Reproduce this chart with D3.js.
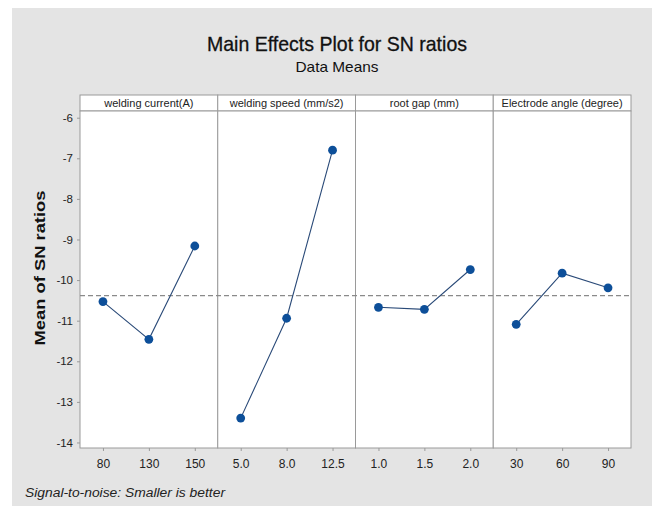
<!DOCTYPE html>
<html><head><meta charset="utf-8">
<script src="https://cdn.jsdelivr.net/npm/d3@7"></script>
<style>body{margin:0;background:#fff;} svg{display:block;}</style>
</head><body>
<script>
const factors = ["welding current(A)", "welding speed (mm/s2)", "root gap (mm)", "Electrode angle (degree)"];
const levels = [["80","130","150"],["5.0","8.0","12.5"],["1.0","1.5","2.0"],["30","60","90"]];
const currentSN = [-10.53, -11.46, -9.16];
const speedSN = [-13.40, -10.94, -6.80];
const gapSN = [-10.67, -10.72, -9.74];
const angleSN = [-11.09, -9.83, -10.19];
const seriesValues = [currentSN, speedSN, gapSN, angleSN];
const yTicks = [-6,-7,-8,-9,-10,-11,-12,-13,-14];
const grandMean = d3.mean(currentSN);

(function(){
const W = 652, H = 506;
const svg = d3.select("body").append("svg").attr("width", W).attr("height", H);
svg.append("rect").attr("x",12).attr("y",8).attr("width",W-12).attr("height",H-8).attr("fill","#e4e4e4");

const pLeft = 80, pRight = 631, pTop = 111, pBottom = 448, headerTop = 95;
const y = d3.scaleLinear().domain([-14.136, -5.835]).range([pBottom, pTop]);
const panelX = d3.scaleBand().domain(factors).range([pLeft, pRight]).paddingInner(0).paddingOuter(0);
const pw = panelX.bandwidth();

const font = "'Liberation Sans', Arial, sans-serif";

svg.append("text").attr("x",337).attr("y",51).attr("text-anchor","middle")
  .attr("font-family",font).attr("font-size",21).attr("fill","#111")
  .attr("stroke","#111").attr("stroke-width",0.3)
  .attr("textLength",260).attr("lengthAdjust","spacingAndGlyphs")
  .text("Main Effects Plot for SN ratios");
svg.append("text").attr("x",337).attr("y",72).attr("text-anchor","middle")
  .attr("font-family",font).attr("font-size",14.5).attr("fill","#111")
  .attr("textLength",83).attr("lengthAdjust","spacingAndGlyphs")
  .text("Data Means");

factors.forEach((f, i) => {
  const x0 = panelX(f);
  const g = svg.append("g");
  g.append("rect").attr("x",x0).attr("y",headerTop).attr("width",pw).attr("height",pTop-headerTop)
    .attr("fill","#fff").attr("stroke","#9a9a9a").attr("stroke-width",1);
  g.append("rect").attr("x",x0).attr("y",pTop).attr("width",pw).attr("height",pBottom-pTop)
    .attr("fill","#fff").attr("stroke","#9a9a9a").attr("stroke-width",1);
  g.append("text").attr("x",x0+pw/2).attr("y",107).attr("text-anchor","middle")
    .attr("font-family",font).attr("font-size",11).attr("fill","#222").text(f);
});

svg.append("line").attr("x1",pLeft).attr("x2",pRight).attr("y1",y(grandMean)).attr("y2",y(grandMean))
  .attr("stroke","#8a8a8a").attr("stroke-width",1.2).attr("stroke-dasharray","5,3");

const yAxis = d3.axisLeft(y).tickValues(yTicks).tickSize(3).tickPadding(4).tickFormat(d3.format("d"));
const ya = svg.append("g").attr("transform",`translate(${pLeft},0)`).call(yAxis);
ya.select(".domain").remove();
ya.selectAll("line").attr("stroke","#9a9a9a");
ya.selectAll("text").attr("font-family",font).attr("font-size",11.5).attr("fill","#222")
  .text(d => d < 0 ? "-" + Math.abs(d) : d);

factors.forEach((f, i) => {
  const x = d3.scalePoint().domain(levels[i]).range([panelX(f), panelX(f)+pw]).padding(0.5);
  const xa = svg.append("g").attr("transform",`translate(0,${pBottom})`).call(d3.axisBottom(x).tickSize(3).tickPadding(8));
  xa.select(".domain").remove();
  xa.selectAll("line").attr("stroke","#9a9a9a");
  xa.selectAll("text").attr("font-family",font).attr("font-size",12).attr("fill","#222");
  const data = levels[i].map((l, j) => ({l, v: seriesValues[i][j]}));
  svg.append("path").datum(data)
    .attr("d", d3.line().x(d => x(d.l)).y(d => y(d.v)))
    .attr("fill","none").attr("stroke","#2a4a78").attr("stroke-width",1.1);
  svg.selectAll(null).data(data).enter().append("circle")
    .attr("cx", d => x(d.l)).attr("cy", d => y(d.v)).attr("r",4.4).attr("fill","#0d4f99");
});

svg.append("text").attr("transform","translate(45,268) rotate(-90)").attr("text-anchor","middle")
  .attr("font-family",font).attr("font-size",15).attr("font-weight","bold").attr("fill","#111")
  .attr("textLength",155).attr("lengthAdjust","spacingAndGlyphs")
  .text("Mean of SN ratios");

svg.append("text").attr("x",25).attr("y",497)
  .attr("font-family",font).attr("font-size",12).attr("font-style","italic").attr("fill","#222")
  .attr("textLength",200).attr("lengthAdjust","spacingAndGlyphs")
  .text("Signal-to-noise: Smaller is better");
})();
</script>
</body></html>
